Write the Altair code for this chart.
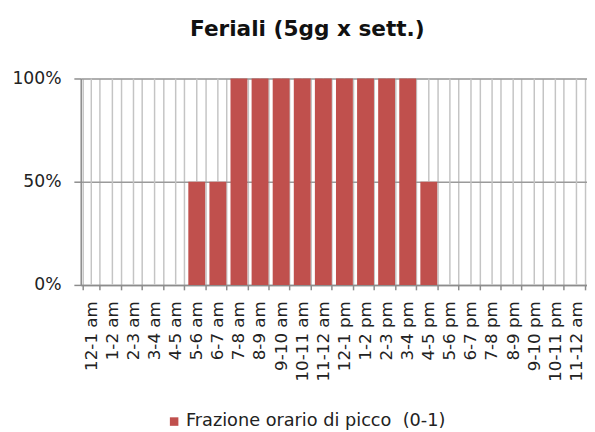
import json
import altair as alt
import pandas as pd

hour_labels = [
    "12-1 am", "1-2 am", "2-3 am", "3-4 am", "4-5 am", "5-6 am",
    "6-7 am", "7-8 am", "8-9 am", "9-10 am", "10-11 am", "11-12 am",
    "12-1 pm", "1-2 pm", "2-3 pm", "3-4 pm", "4-5 pm", "5-6 pm",
    "6-7 pm", "7-8 pm", "8-9 pm", "9-10 pm", "10-11 pm", "11-12 am",
]
peak_fraction = [
    0, 0, 0, 0, 0, 0.5,
    0.5, 1, 1, 1, 1, 1,
    1, 1, 1, 1, 0.5, 0,
    0, 0, 0, 0, 0, 0,
]
series_name = "Frazione orario di picco \u00a0(0-1)"
y_ticks = [0, 0.5, 1]

df = pd.DataFrame({
    "idx": list(range(len(hour_labels))),
    "label": hour_labels,
    "frac": peak_fraction,
    "serie": [series_name] * len(hour_labels),
})

label_expr = json.dumps(hour_labels) + "[datum.value]"

x_enc = alt.X(
    "idx:O",
    scale=alt.Scale(paddingInner=0.2, paddingOuter=0.1),
    axis=alt.Axis(
        title="",
        labelExpr=label_expr,
        labelAngle=-90,
        labelOverlap=False,
        labelFont="DejaVu Sans",
        labelFontSize=17,
        labelColor="#222222",
        labelPadding=11,
        tickBand="extent",
        ticks=True,
        tickSize=5,
        tickColor="#8c8c8c",
        tickWidth=1.5,
        domainColor="#8c8c8c",
        domainWidth=1.5,
        grid=True,
        gridColor="#c4c4c4",
        gridWidth=1.5,
    ),
)

y_scale = alt.Scale(domain=[0, 1], nice=False)
y_axis = alt.Axis(
    title="",
    values=y_ticks,
    format=".0%",
    labelFont="DejaVu Sans",
    labelFontSize=17.5,
    labelColor="#222222",
    labelPadding=13,
    tickSize=7,
    tickColor="#8c8c8c",
    tickWidth=1.5,
    domainColor="#8c8c8c",
    domainWidth=1.5,
    grid=True,
    gridColor="#9a9a9a",
    gridWidth=1.5,
)

center_grid = alt.Chart(df).mark_rule(color="#c4c4c4", strokeWidth=1.5).encode(
    x=x_enc,
    y=alt.Y(datum=0, type="quantitative", scale=y_scale, axis=y_axis),
    y2=alt.datum(1),
)

bars = alt.Chart(df).mark_bar(opacity=1).encode(
    x=x_enc,
    y=alt.Y("frac:Q", scale=y_scale, axis=y_axis),
    color=alt.Color(
        "serie:N",
        scale=alt.Scale(domain=[series_name], range=["#c0504d"]),
        legend=alt.Legend(
            title=None,
            orient="none",
            legendX=86,
            legendY=340,
            symbolType="square",
            symbolSize=75,
            symbolStrokeWidth=0,
            labelFont="DejaVu Sans",
            labelFontSize=18,
            labelColor="#222222",
            labelOffset=3,
            labelLimit=400,
            padding=0,
        ),
    ),
)

chart = alt.layer(center_grid, bars).properties(
    width=515,
    height=210,
    autosize=alt.AutoSizeParams(type="none"),
    padding={"left": 74, "top": 68, "right": 0, "bottom": 152},
    title=alt.TitleParams(
        text="Feriali (5gg x sett.)",
        font="DejaVu Sans",
        fontSize=22,
        fontWeight="bold",
        color="#111111",
        anchor="middle",
        baseline="alphabetic",
        dx=-27,
        offset=12,
    ),
).configure_view(strokeWidth=0).configure(background="white")

chart.save("out.html", embed_options={"renderer": "svg", "actions": False})
